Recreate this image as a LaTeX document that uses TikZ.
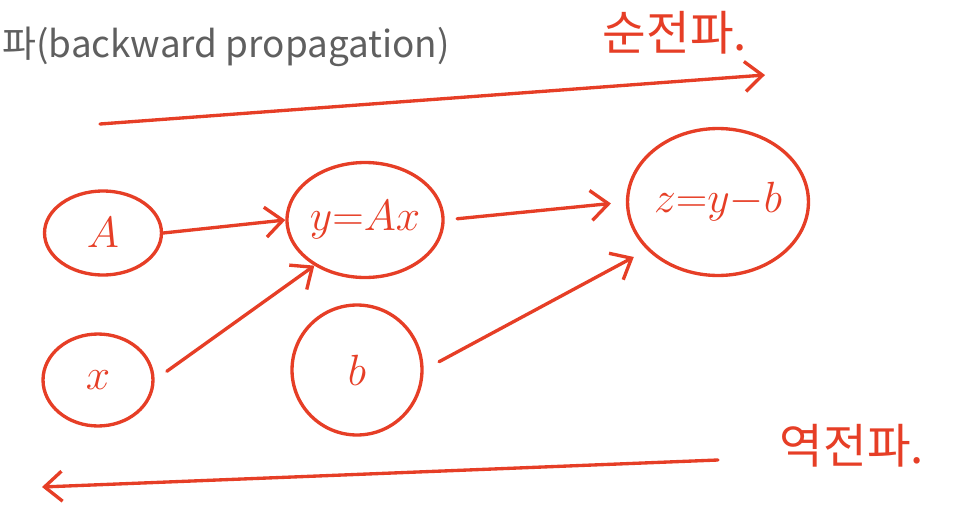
\documentclass[tikz,border=0pt]{standalone}
\usepackage{fontspec}
\setmainfont{Noto Sans CJK KR}
\newfontfamily\hangul{Noto Sans CJK KR}
\usepackage{xcolor}
\usetikzlibrary{arrows.meta,shapes.geometric}

\definecolor{pen}{RGB}{230,62,38}
\definecolor{slide}{RGB}{95,95,95}

\tikzset{
  blob/.style={draw=pen, line width=1.9pt, ellipse, inner sep=0pt,
    text=pen, font=\fontsize{26}{26}\selectfont},
  stroke/.style={draw=pen, line width=1.9pt, line cap=round,
    -{Straight Barb[length=3.5mm,width=6mm,line width=1.9pt]}},
  scrawl/.style={text=pen, font=\hangul\fontsize{27}{27}\selectfont}
}

\begin{document}
\begin{tikzpicture}[x=0.02cm, y=-0.02cm]
        \useasboundingbox (0,0) rectangle (970,524);
        % Slide title
        \node[anchor=base west, text=slide, inner sep=0pt,
          font=\hangul\fontsize{21}{21}\selectfont] (title) at (2,57)
          {파(backward propagation)};
        % Nodes
        \node[blob, minimum width=2.34cm, minimum height=1.68cm] (nA) at (103,233) {$A$};
        \node[blob, minimum width=2.6cm, minimum height=2.3cm] (nY) at (365,220) {$y{=}Ax$};
        \node[blob, minimum width=3.26cm, minimum height=2.94cm] (nZ) at (718,202) {$z{=}y{-}b$};
        \node[blob, minimum width=2.2cm, minimum height=1.84cm] (nX) at (98,380) {$x$};
        \node[blob, minimum width=2.6cm, minimum height=2.6cm] (nB) at (357,370) {$b$};
        % Edges
        \draw[stroke] (nA.east) -- (nY.west);
        \draw[stroke, shorten <=0.3cm] (nX.east) -- (nY.222);
        \draw[stroke, shorten <=0.25cm, shorten >=0.3cm] (nY.east) -- (nZ.west);
        \draw[stroke, shorten <=0.35cm, shorten >=0.3cm] (nB.east) -- (nZ.214);
        % Direction arrows
        \coordinate (fwdS) at (100,124);
        \coordinate (fwdE) at (765,75);
        \coordinate (bwdS) at (718,460);
        \coordinate (bwdE) at (42,487);
        \draw[stroke] (fwdS) -- (fwdE);
        \draw[stroke] (bwdS) -- (bwdE);
        % Labels
        \node[scrawl] (fwd) at (675,33) {순전파.};
        \node[scrawl] (bwd) at (852,446) {역전파.};
      \end{tikzpicture}
\end{document}
